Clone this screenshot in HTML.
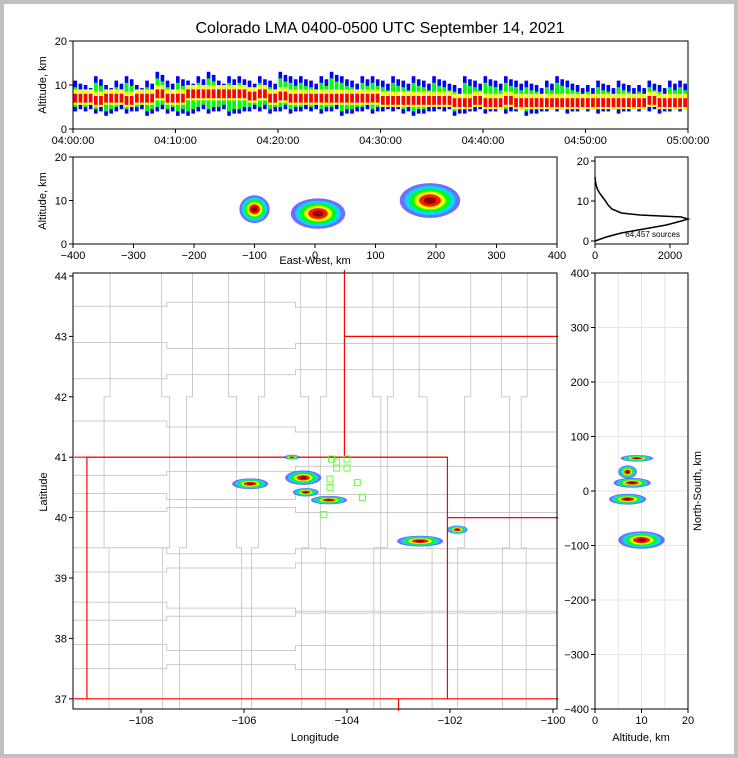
<!DOCTYPE html>
<html><head><meta charset="utf-8">
<style>
html,body{margin:0;padding:0;background:#c0c0c0;}
#wrap{position:absolute;left:4px;top:4px;width:730px;height:750px;background:#fff;}
svg{position:absolute;left:0;top:0;}
text{font-family:"Liberation Sans",sans-serif;fill:#000;}
</style></head>
<body>
<div id="wrap"></div>
<svg id="chart" width="738" height="758"></svg>
<script>
// ---- data ----
const timeTicks=["04:00:00","04:10:00","04:20:00","04:30:00","04:40:00","04:50:00","05:00:00"];
const binLo=[4,4,3.5,3,4,3.5,4,3,4,3.5,3,3,4,3.5,4,3,3.5,4,4,3.5,4,3.5,4,4,3.5,4,3,3.5,4,3.5,4,4,3.5,3,3.5,4,4,3,3.5,4,3.5,4,3.5,4,3,3.5,4,4,3.5,4,4,3.5,4,3.5,4,4,4,3.5,4,4];
const binHi=[11,10,12,10,11,12,10,11,13,11,12,11,12,13,11,12,12,11,12,11,13,12,12,11,12,13,12,11,12,12,11,12,11,12,11,12,11,10,12,11,12,11,12,11,11,10,11,12,11,10,10,11,10,11,10,10,11,10,11,11];
const binCore=[7,7,6.5,7,7,6.5,7,7,8,7,7,8,8,8,8,8,8,7.5,8,7,7.5,7,7,7,7,7,7,7,7,7,6.5,6.5,6.5,6.5,6.5,6.5,6.5,6,6,6.5,6,6,6.5,6,6,6,6,6,6,6,6,6,6,6,6,6,6.5,6,6,6];
const ewBlobs=[[-100,8,25,3.2],[5,7,45,3.5],[190,10,50,4]];
const histAlt=[0,1,2,3,4,5,5.5,6,6.5,7,8,9,10,11,12,13,14,15,16];
const histCnt=[0,300,700,1300,1900,2300,2480,2300,1200,700,450,350,280,200,120,60,30,10,0];
const mapBlobs=[[-105.88,40.56,0.35,0.09],[-105.07,41.0,0.15,0.04],[-104.85,40.66,0.35,0.12],[-104.8,40.42,0.25,0.07],[-104.35,40.29,0.35,0.07],[-102.58,39.61,0.45,0.09],[-101.86,39.8,0.2,0.07]];
const stations=[[-104.0,40.97],[-104.3,40.97],[-104.2,40.92],[-104.0,40.82],[-104.2,40.82],[-103.8,40.58],[-104.33,40.64],[-104.33,40.5],[-103.7,40.33],[-104.45,40.05]];
const nsBlobs=[[9,60,3.5,6],[7,35,2,12],[8,15,4,9],[7,-15,4,10],[10,-90,5,16]];
const lonTicks=[-108,-106,-104,-102,-100];
const latTicks=[37,38,39,40,41,42,43,44];
// ---- setup ----
const NS="http://www.w3.org/2000/svg";
const svg=document.getElementById('chart');
function el(t,a,p){const e=document.createElementNS(NS,t);for(const k in a)e.setAttribute(k,a[k]);(p||svg).appendChild(e);return e;}
function txt(x,y,s,o){const t=el('text',Object.assign({x:x,y:y,'font-size':11,'text-anchor':'middle'},o||{}));t.textContent=s;return t;}
function fmt(v){return v<0?'\u2212'+Math.abs(v):String(v);}
const cols=['#3030ff','#00e0ff','#00ff00','#ffff00','#ff0000','#800000'];
function blob(g,cx,cy,rx,ry){for(let i=0;i<cols.length;i++){const f=1-i*0.16;const e=el('ellipse',{cx:cx,cy:cy,rx:Math.max(rx*f,0.5),ry:Math.max(ry*f,0.5),fill:cols[i],opacity:i==0?0.7:0.9},g);}}
function frame(x0,y0,x1,y1,name){const r=el('rect',{x:x0,y:y0,width:x1-x0,height:y1-y0,fill:'none',stroke:'#000','stroke-width':1});}
function tickY(x,y,s){el('line',{x1:x,y1:y,x2:x-4,y2:y,stroke:'#000'});txt(x-6,y+4,s,{'text-anchor':'end'});}
function tickX(x,y,s){el('line',{x1:x,y1:y,x2:x,y2:y+4,stroke:'#000'});txt(x,y+15,s);}
// title
const title=txt(380,33,"Colorado LMA 0400-0500 UTC September 14, 2021",{'font-size':16});

// ---- panel 1 time-height ----
{const X0=73,X1=688,Y0=41,Y1=129;const sx=i=>X0+(X1-X0)*i/60;const sy=a=>Y1-(Y1-Y0)*a/20;
const g=el('g',{});
const w=(X1-X0)/60;
for(let i=0;i<binLo.length;i++){
 for(let k=0;k<2;k++){const x=sx(i)+k*w/2+0.5,cw=w/2-1.5;
 const lo=binLo[i]+k*0.5,hi=binHi[i]-k*0.7;
 const r1=el('rect',{x:x,y:sy(hi),width:cw,height:sy(lo)-sy(hi),fill:'#0000ff'},g);
 el('rect',{x:x,y:sy(hi-1.5),width:cw,height:sy(lo+1)-sy(hi-1.5),fill:'#00ff00'},g);
 el('rect',{x:x,y:sy(binCore[i]+2),width:cw,height:sy(binCore[i]-1.5)-sy(binCore[i]+2),fill:'#ffff00'},g);
 el('rect',{x:x,y:sy(binCore[i]+1),width:cw,height:sy(binCore[i]-1)-sy(binCore[i]+1),fill:'#ff0000'},g);}}
frame(X0,Y0,X1,Y1,'time-height-frame');
[0,10,20].forEach(v=>tickY(X0,sy(v),v));
timeTicks.forEach((s,i)=>tickX(X0+(X1-X0)*i/6,Y1,s));
txt(46,85,"Altitude, km",{transform:'rotate(-90 46 85)'});}
// ---- panel 2 EW-alt ----
{const X0=73,X1=557,Y0=157,Y1=244;const sx=v=>X0+(X1-X0)*(v+400)/800;const sy=a=>Y1-(Y1-Y0)*a/20;
const g=el('g',{});
ewBlobs.forEach(b=>blob(g,sx(b[0]),sy(b[1]),(sx(b[2])-sx(0)),(sy(0)-sy(b[3]))));
frame(X0,Y0,X1,Y1,'east-west-frame');
[0,10,20].forEach(v=>tickY(X0,sy(v),v));
[-400,-300,-200,-100,0,100,200,300,400].forEach(v=>tickX(sx(v),Y1,fmt(v)));
txt(315,264,"East-West, km");txt(46,201,"Altitude, km",{transform:'rotate(-90 46 201)'});}
// ---- panel 3 histogram ----
{const X0=595,X1=688,Y0=157,Y1=244;const sx=v=>X0+(X1-X0)*v/2480;const sy=a=>241-(241-161)*a/20;
let d='';histAlt.forEach((a,i)=>{d+=(i?'L':'M')+sx(histCnt[i]).toFixed(1)+' '+sy(a).toFixed(1);});
const p=el('path',{d:d,fill:'none',stroke:'#000','stroke-width':1.5});
frame(X0,Y0,X1,Y1,'histogram-frame');
[0,10,20].forEach(v=>tickY(X0,sy(v),v));
[0,2000].forEach(v=>tickX(sx(v),Y1,v));
txt(680,237,"64,457 sources",{'font-size':8,'text-anchor':'end'});}
// ---- panel 4 map ----
{const X0=73,X1=557,Y0=273,Y1=709;const sx=l=>141+(l+108)*51.5;const sy=l=>276+(44-l)*60.4;
const g=el('g',{});
const gl=el('g',{stroke:'#cccccc','stroke-width':1,fill:'none',},g);
const hLat=[43.5,42.9,42.3,41.6,40.7,40.4,40.1,39.5,39.1,38.6,38.3,37.9,37.5];
hLat.forEach((la,i)=>{el('path',{d:`M${X0} ${sy(la)} H${sx(-107.5)} v${i%2?6:-4} H${sx(-105)} v${i%3?-5:5} H${X1}`},gl);});
const vLon=[-108.6,-107.6,-107,-106.3,-105.6,-104.9,-104.4,-103.5,-103.1,-102.6,-101.6,-101,-100.5];
vLon.forEach((lo,i)=>{el('path',{d:`M${sx(lo)} ${Y0} V${sy(42)} h${i%2?8:-6} V${sy(39.5)} h${i%3?-7:5} V${Y1}`},gl);});
const red={stroke:'#ff0000','stroke-width':1.2,fill:'none'};
[[[-109.05,37],[-109.05,41],[-102.05,41],[-102.05,37],[-109.05,37]],[[-109.3,41],[-102.05,41]],[[-104.05,41],[-104.05,44.1]],[[-104.05,43],[-99.9,43]],[[-102.05,40],[-99.9,40]],[[-102.05,37],[-99.9,37]],[[-109.3,37],[-109.05,37]],[[-103,37],[-103,36.8]]].forEach(line=>{
 const pr=el('path',Object.assign({d:line.map((p,i)=>(i?'L':'M')+sx(p[0])+' '+sy(p[1])).join('')},red),g);});
mapBlobs.forEach(b=>blob(g,sx(b[0]),sy(b[1]),b[2]*51.5,b[3]*60.4));
stations.forEach(s=>{const r=el('rect',{x:sx(s[0])-3,y:sy(s[1])-3,width:6,height:6,fill:'none',stroke:'#66ff33','stroke-width':1},g);});
frame(X0,Y0,X1,Y1,'map-frame');
latTicks.forEach(v=>tickY(X0,sy(v),v));
lonTicks.forEach(v=>tickX(sx(v),Y1,fmt(v)));
txt(315,741,"Longitude");txt(47,492,"Latitude",{transform:'rotate(-90 47 492)'});}
// ---- panel 5 alt-NS ----
{const X0=595,X1=688,Y0=273,Y1=709;const sx=a=>X0+(X1-X0)*a/20;const sy=v=>Y1-(Y1-Y0)*(v+400)/800;
const g=el('g',{});
for(let v=-300;v<=300;v+=100)el('line',{x1:X0,y1:sy(v),x2:X1,y2:sy(v),stroke:'#e6e6e6'},g);
[5,10,15].forEach(v=>el('line',{x1:sx(v),y1:Y0,x2:sx(v),y2:Y1,stroke:'#e6e6e6'},g));
nsBlobs.forEach(b=>blob(g,sx(b[0]),sy(b[1]),sx(b[2])-sx(0),sy(0)-sy(b[3])));
frame(X0,Y0,X1,Y1,'north-south-frame');
[-400,-300,-200,-100,0,100,200,300,400].forEach(v=>tickY(X0,sy(v),fmt(v)));
[0,10,20].forEach(v=>tickX(sx(v),Y1,v));
txt(641,741,"Altitude, km");txt(701,491,"North-South, km",{transform:'rotate(-90 701 491)'});}
</script>
</body></html>
